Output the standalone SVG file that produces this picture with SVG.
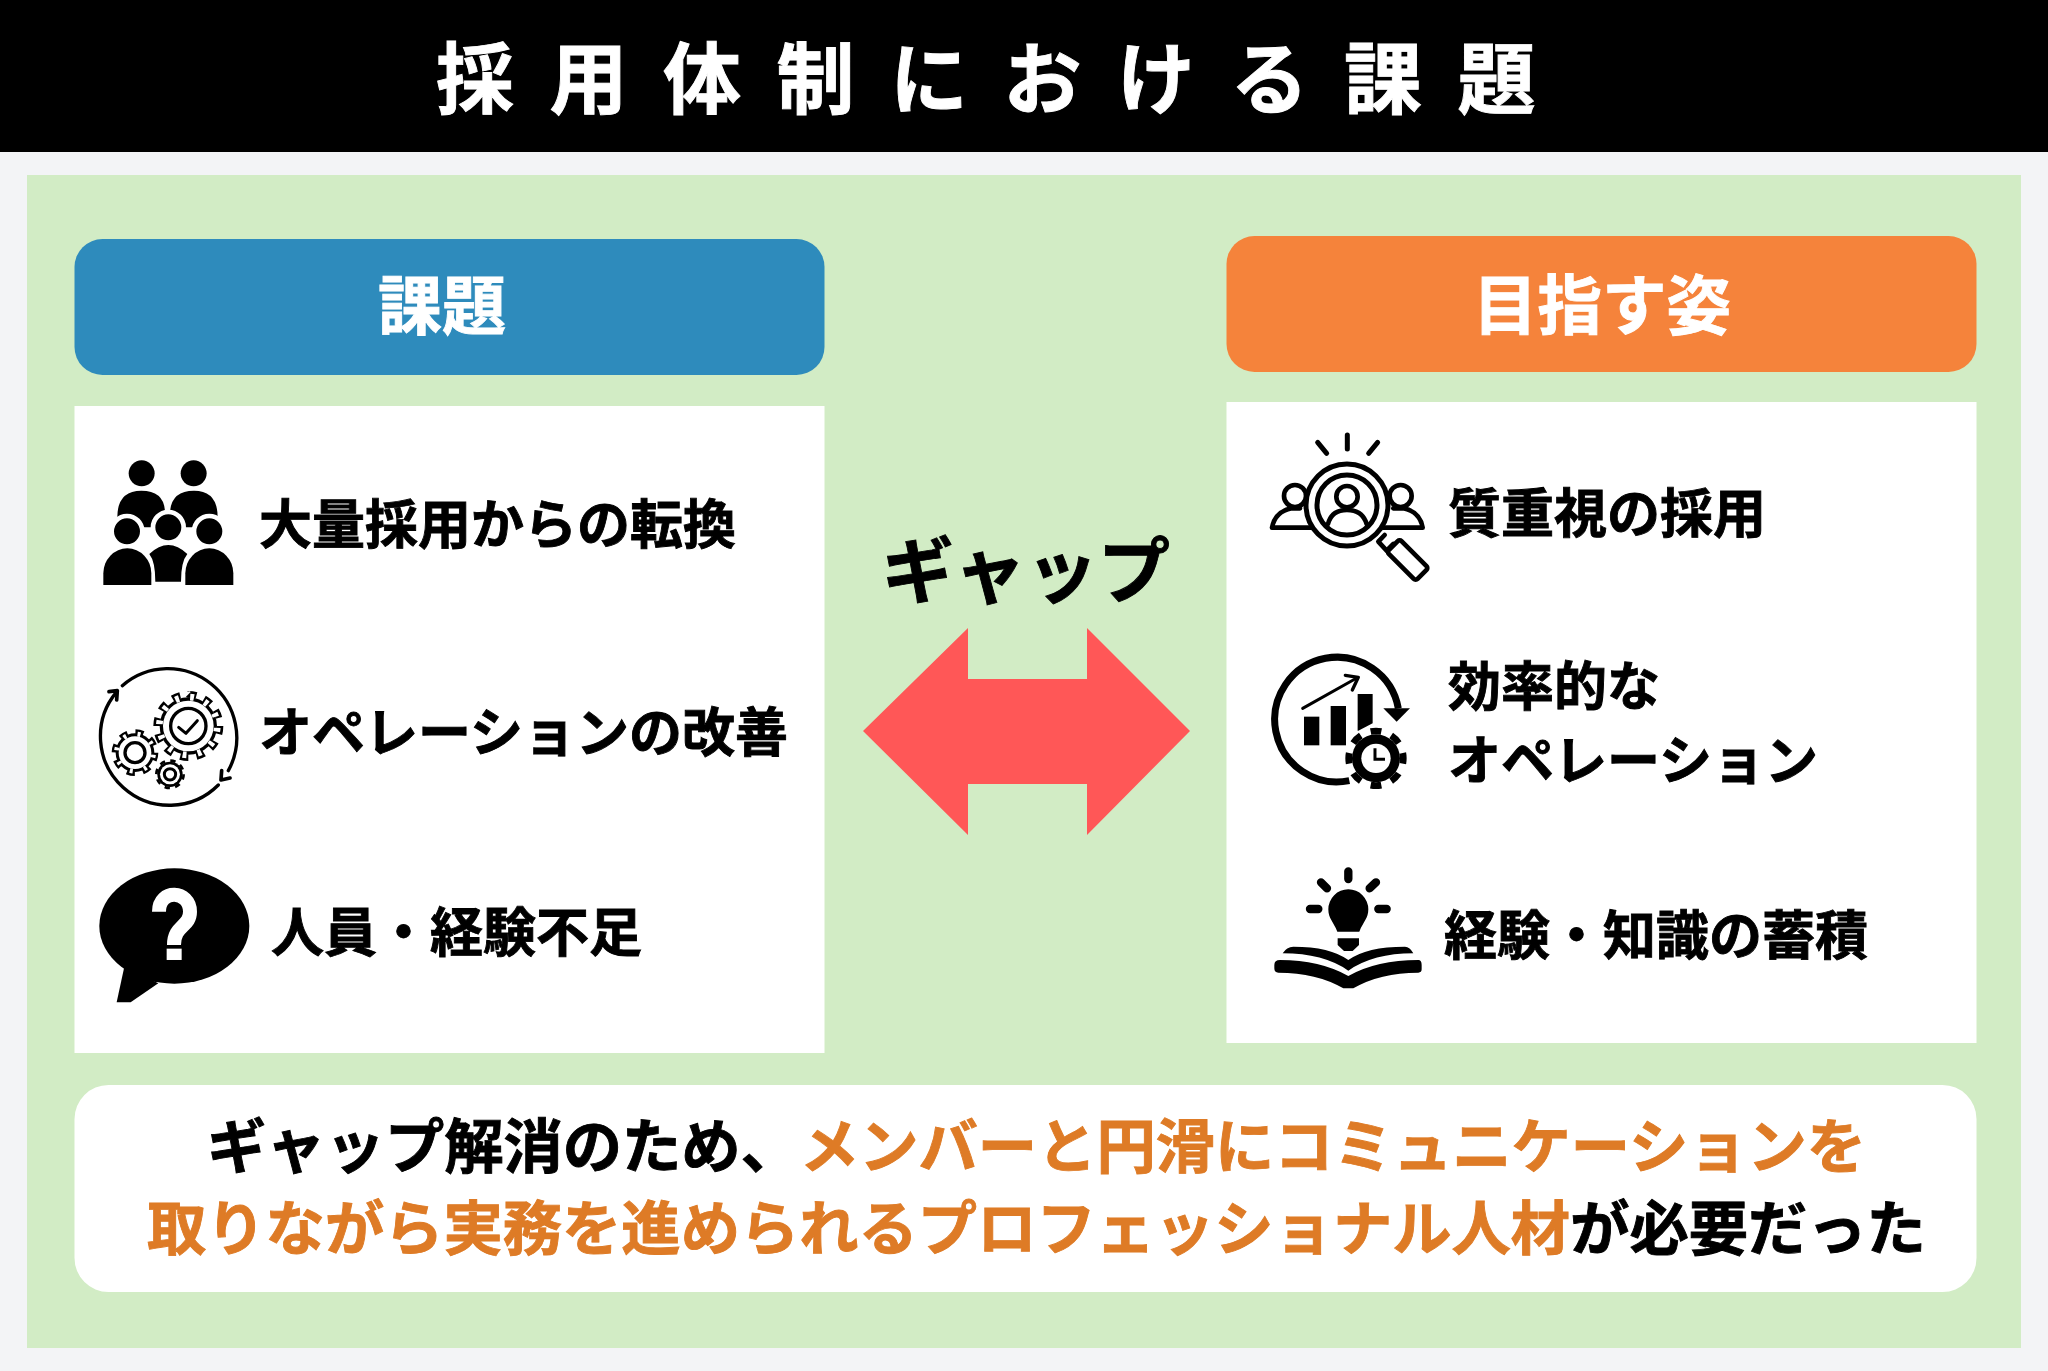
<svg xmlns="http://www.w3.org/2000/svg" width="2048" height="1371" viewBox="0 0 2048 1371">
<style>
text{font-family:"Noto Sans CJK JP","Noto Sans CJK SC",sans-serif;font-weight:700;fill:#000;stroke:#000;stroke-width:.9px}
.t{font-size:53px}
.b{font-size:59.300px}
.o{fill:#de7b26;stroke:#de7b26}
.w{fill:#fff;stroke:#fff}
.k{fill:#000;stroke:none}
.s{fill:none;stroke:#000;stroke-linecap:round;stroke-linejoin:round}
</style>
<rect width="2048" height="1371" fill="#f3f4f6"/>
<rect width="2048" height="152" fill="#000"/>
<rect x="27" y="175" width="1994" height="1173" fill="#d2ecc5"/>
<g id="title"><text x="436" y="108" font-size="78" letter-spacing="35.500" class="w">採用体制における課題</text></g>
<g id="connectors">
<path d="M863 731L968 628V679H1087V628L1190 731L1087 835V784H968V835Z" fill="#ff5757"/>
</g>
<g id="gap-label"><text x="882" y="597" font-size="72">ギャップ</text></g>
<g id="issue-header"><rect x="74.500" y="239" width="750" height="136" rx="28" fill="#2e8bbc"/><text x="378" y="329" font-size="64" class="w">課題</text></g>
<g id="goal-header"><rect x="1226.500" y="236" width="750" height="136" rx="28" fill="#f5833b"/><text x="1473" y="329" font-size="64.500" class="w">目指す姿</text></g>
<g id="issue-panel"><rect x="74.500" y="406" width="750" height="647" fill="#fff"/></g>
<g id="goal-panel"><rect x="1226.500" y="402" width="750" height="641" fill="#fff"/></g>
<g id="issue-1">
<g transform="translate(80 430) scale(.3333)">
<circle cx="185" cy="130" r="39"/><circle cx="341" cy="130" r="39"/>
<path d="M112 262Q112 182 184 182Q255 182 255 250L215 292H190Z"/>
<path d="M270 250Q272 182 342 182Q413 182 413 262L340 292H316Z"/>
<g stroke="#fff" stroke-width="14">
<circle cx="141" cy="304" r="46"/><circle cx="388" cy="304" r="46"/><circle cx="265" cy="292" r="46"/>
</g>
<path d="M208 372Q265 318 322 372Q303 395 303 455H226Q226 395 208 372Z"/>
<path d="M70 465V430A72 75 0 0 1 214 430V465Z"/>
<path d="M316 465V430A72 75 0 0 1 460 430V465Z"/>
</g>
<text x="259" y="544" class="t">大量採用からの転換</text>
</g>
<g id="issue-2">
<g transform="translate(80 650) scale(.3333)">
<path class="s" stroke-width="10" d="M127 107A207 207 0 0 1 445 362M415 405A207 207 0 0 1 108 128"/>
<path class="s" stroke-width="11" d="M87 125L112 122L110 150M450 384L423 390L425 362"/>
<g>
<circle cx="325" cy="228" r="86"/><circle cx="325" cy="228" r="95" fill="none" stroke="#000" stroke-width="20" pathLength="24" stroke-dasharray="1 1"/>
<circle cx="325" cy="228" r="76" fill="#fff"/><circle cx="325" cy="228" r="87" fill="none" stroke="#fff" stroke-width="20" pathLength="24" stroke-dasharray=".5 1.500" stroke-dashoffset="-.25"/>
<circle cx="325" cy="228" r="53" fill="#fff" stroke="#000" stroke-width="10"/>
<path class="s" stroke-width="9" d="M296 232L318 250L352 212"/>
</g>
<g>
<circle cx="165" cy="308" r="58"/><circle cx="165" cy="308" r="63" fill="none" stroke="#000" stroke-width="14" pathLength="16" stroke-dasharray="1 1"/>
<circle cx="165" cy="308" r="49" fill="#fff"/><circle cx="165" cy="308" r="56" fill="none" stroke="#fff" stroke-width="14" pathLength="16" stroke-dasharray=".4 1.600" stroke-dashoffset="-.3"/>
<circle cx="165" cy="308" r="30" fill="#fff" stroke="#000" stroke-width="10"/>
</g>
<g>
<circle cx="270" cy="373" r="38"/><circle cx="270" cy="373" r="41" fill="none" stroke="#000" stroke-width="8" pathLength="16" stroke-dasharray="1 1"/>
<circle cx="270" cy="373" r="30" fill="#fff"/>
<circle cx="270" cy="373" r="17" fill="#fff" stroke="#000" stroke-width="9"/>
</g>
</g>
<text x="259" y="752" class="t">オペレーションの改善</text>
</g>
<g id="issue-3">
<g transform="translate(80 850) scale(.3333)">
<ellipse cx="283" cy="228" rx="225" ry="173"/>
<path d="M133 350L110 457H152L235 400Z"/>
<path d="M237 185C237 115 330 120 330 185C330 232 282 225 282 285" fill="none" stroke="#fff" stroke-width="42"/>
<rect x="260" y="296" width="45" height="34" fill="#fff"/>
</g>
<text x="271" y="952" class="t">人員・経験不足</text>
</g>
<g id="goal-1">
<g transform="translate(1250 420) scale(.3333)">
<g class="s" stroke-width="14">
<circle cx="135" cy="228" r="33"/><circle cx="452" cy="228" r="33"/>
<path d="M185 323H66Q75 275 125 265H150M400 323H518Q510 275 460 265H430"/>
<path stroke-width="15" d="M203 67L230 100M292 45V87M383 67L356 100"/>
</g>
<circle cx="291" cy="255" r="123" fill="#fff" stroke="#000" stroke-width="15"/>
<circle cx="291" cy="255" r="90" fill="none" stroke="#000" stroke-width="15"/>
<g class="s" stroke-width="14">
<circle cx="291" cy="230" r="32"/>
<path d="M234 312Q245 270 291 270Q337 270 350 312"/>
<path d="M404 345L385 365L410 392L430 372" fill="#fff"/>
<rect x="412" y="393" width="122" height="54" rx="8" transform="rotate(45 473 420)" fill="#fff"/>
</g>
</g>
<text x="1448" y="533" class="t">質重視の採用</text>
</g>
<g id="goal-2">
<g transform="translate(1250 640) scale(.3333)">
<path d="M298 422A187 187 0 1 1 445 205" fill="none" stroke="#000" stroke-width="21"/>
<path d="M400 205H480L440 245Z"/>
<rect x="162" y="230" width="46" height="86"/><rect x="242" y="198" width="46" height="118"/>
<path d="M323 162H368V250L325 272H323Z"/>
<path d="M158 205L315 117" fill="none" stroke="#000" stroke-width="9" stroke-linecap="round"/>
<path d="M286 106L325 112L307 150" fill="none" stroke="#000" stroke-width="10" stroke-linejoin="round" stroke-linecap="round"/>
<circle cx="378" cy="355" r="87" fill="#fff"/>
<circle cx="378" cy="355" r="72"/>
<circle cx="378" cy="355" r="82" fill="none" stroke="#000" stroke-width="20" pathLength="16" stroke-dasharray="1 1" stroke-dashoffset=".5"/>
<circle cx="378" cy="355" r="44" fill="#fff"/>
<path d="M375 325V358H405" fill="none" stroke="#000" stroke-width="9"/>
</g>
<text x="1448" y="706" class="t">効率的な</text>
<text x="1448" y="780" class="t">オペレーション</text>
</g>
<g id="goal-3">
<g transform="translate(1250 850) scale(.3333)">
<path d="M262 245C250 215 235 205 235 178A60 60 0 0 1 355 178C355 205 340 215 328 245Z"/>
<path d="M263 265H327V285L308 303H282L263 285Z"/>
<path class="s" stroke-width="25" d="M295 64V87M213 97L231 115M378 97L359 115M180 177H205M385 177H410"/>
<path d="M98 310Q110 290 130 290Q240 290 295 330Q350 290 465 290Q480 290 490 310Q370 310 295 362Q220 310 98 310Z"/>
<path d="M90 330Q210 330 295 378Q380 330 505 330Q515 330 515 345V358Q515 368 505 368Q390 368 310 415H280Q200 368 85 368Q73 368 73 355V345Q73 330 90 330Z"/>
</g>
<text x="1444" y="955" class="t">経験・知識の蓄積</text>
</g>
<g id="summary">
<rect x="74.500" y="1085" width="1902" height="207" rx="34" fill="#fff"/>
<text x="207" y="1168" class="b">ギャップ解消のため、<tspan class="o">メンバーと円滑にコミュニケーションを</tspan></text>
<text x="147" y="1250" class="b"><tspan class="o">取りながら実務を進められるプロフェッショナル人材</tspan>が必要だった</text>
</g>
</svg>
